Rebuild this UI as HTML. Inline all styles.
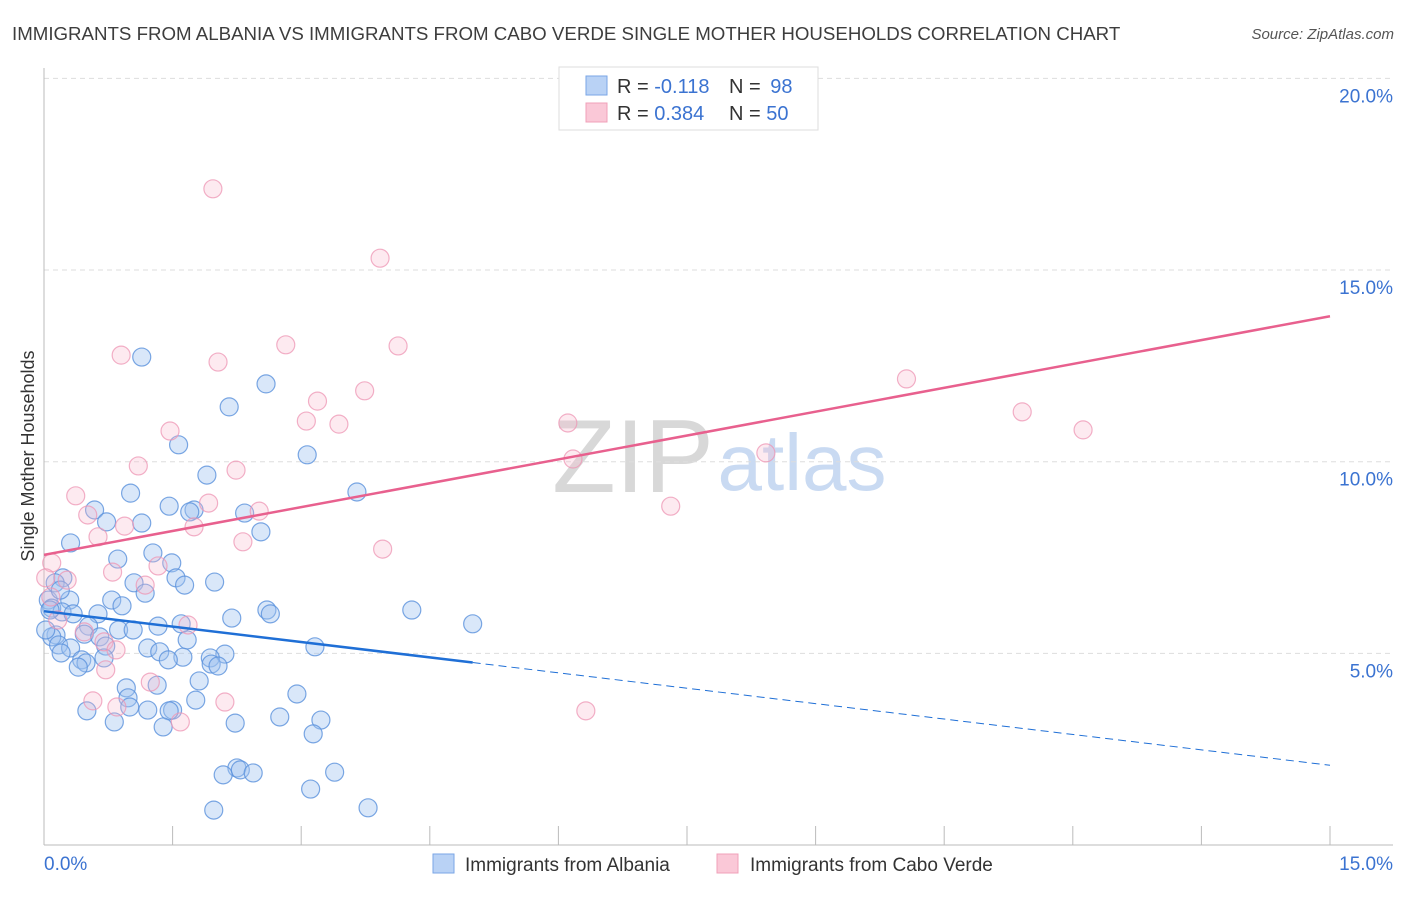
<!DOCTYPE html>
<html><head><meta charset="utf-8"><style>
body{margin:0;background:#fff;width:1406px;height:892px;overflow:hidden;font-family:"Liberation Sans",sans-serif}
svg text{font-family:"Liberation Sans",sans-serif}
</style></head><body>
<svg id="chart" width="1406" height="892">
<text x="12" y="40" font-size="18.7" fill="#3d3d3d">IMMIGRANTS FROM ALBANIA VS IMMIGRANTS FROM CABO VERDE SINGLE MOTHER HOUSEHOLDS CORRELATION CHART</text>
<text x="1394" y="39" font-size="15" fill="#555" font-style="italic" text-anchor="end">Source: ZipAtlas.com</text>
<g>
<text x="633" y="492" font-size="104" fill="#d8d8d8" font-family="Liberation Serif" text-anchor="middle">ZIP</text>
<text x="802" y="490" font-size="80" fill="#c9daf2" text-anchor="middle">atlas</text>
</g>
<g id="grid"></g>
<g id="axes"></g>
<g id="marks"></g>
<text transform="translate(34,456) rotate(-90)" font-size="18" fill="#333" text-anchor="middle">Single Mother Households</text>
<g>
<rect x="559" y="67" width="259" height="63" fill="#fff" stroke="#ddd"/>
<rect x="586" y="76" width="21" height="19" fill="#b9d2f5" stroke="#7aa6e6"/>
<rect x="586" y="103" width="21" height="19" fill="#fac8d7" stroke="#f0a0b8"/>
<text x="617" y="93" font-size="20" fill="#333">R = <tspan fill="#3b73d1">-0.118</tspan></text>
<text x="729" y="93" font-size="20" fill="#333">N = <tspan fill="#3b73d1" dx="4">98</tspan></text>
<text x="617" y="120" font-size="20" fill="#333">R = <tspan fill="#3b73d1">0.384</tspan></text>
<text x="729" y="120" font-size="20" fill="#333">N = <tspan fill="#3b73d1">50</tspan></text>
</g>
<g>
<rect x="433" y="854" width="21" height="19" fill="#b9d2f5" stroke="#7aa6e6"/>
<text x="465" y="871" font-size="19" fill="#333">Immigrants from Albania</text>
<rect x="717" y="854" width="21" height="19" fill="#fac8d7" stroke="#f0a0b8"/>
<text x="750" y="871" font-size="19" fill="#333">Immigrants from Cabo Verde</text>
</g>
</svg>
<script>
const blueX=[1.14,2.59,2.16,1.57,3.07,1.90,1.01,3.65,1.46,.59,1.75,1.70,.73,2.34,1.14,2.53,.31,.86,1.27,1.49,1.54,1.99,1.05,1.64,.22,.13,1.18,.05,.30,.79,.91,.09,.21,.34,.63,2.60,4.29,5.00,2.64,2.19,1.60,1.33,.52,.87,1.04,.47,.14,.09,.65,1.67,.72,1.21,.17,.31,3.16,.20,1.35,1.62,.70,2.11,1.94,.44,1.45,.49,1.95,2.03,.40,1.81,.96,1.32,2.95,.98,1.77,1.00,1.21,.50,1.50,1.46,2.75,3.23,.82,2.23,1.39,3.14,2.25,2.29,2.44,2.09,3.39,3.11,1.98,3.78,.07,.02,.19];
const blueY=[12.73,12.03,11.43,10.44,10.18,9.65,9.18,9.21,8.84,8.74,8.74,8.69,8.43,8.66,8.40,8.17,7.88,7.46,7.62,7.36,6.97,6.86,6.84,6.78,6.97,6.84,6.57,6.39,6.39,6.39,6.24,6.18,6.08,6.03,6.03,6.13,6.13,5.77,6.03,5.92,5.77,5.71,5.71,5.61,5.61,5.50,5.48,5.43,5.43,5.35,5.19,5.14,5.22,5.14,5.17,5.01,5.04,4.90,4.88,4.98,4.88,4.83,4.83,4.75,4.72,4.67,4.64,4.28,4.10,4.17,3.94,3.84,3.78,3.60,3.52,3.50,3.52,3.50,3.34,3.26,3.21,3.18,3.08,2.90,2.01,1.96,1.88,1.83,1.90,1.46,.91,.97,6.13,5.61,6.65];
const pinkX=[1.97,3.92,2.82,4.13,.90,2.03,10.06,3.74,3.19,11.41,3.06,3.44,6.11,1.47,12.12,8.42,6.17,1.10,2.24,.37,1.92,.51,.94,2.51,1.75,.63,2.32,7.31,3.95,.09,.80,1.33,.27,1.18,.08,.16,.47,1.68,.70,.84,.72,1.24,.57,2.11,.85,1.59,6.32,.02];
const pinkY=[17.12,15.31,13.05,13.02,12.78,12.60,12.16,11.85,11.58,11.30,11.06,10.98,11.01,10.80,10.83,10.23,10.07,9.89,9.78,9.11,8.92,8.61,8.32,8.71,8.30,8.04,7.91,8.84,7.72,7.36,7.12,7.28,6.91,6.78,6.47,5.87,5.56,5.74,5.30,5.09,4.57,4.25,3.76,3.73,3.60,3.21,3.50,6.97];
const trendIntercept=[6.10,7.57];
const trendSlope=[-0.268,0.415];
const blueSolidEnd=5.0;
const yTicks=[5,10,15,20];
const yTickLabels=["5.0%","10.0%","15.0%","20.0%"];
const xTicks=[0,1.5,3,4.5,6,7.5,9,10.5,12,13.5,15];

const NS="http://www.w3.org/2000/svg";
const X0=44,X1=1330,Y0=845,PX_PER=38.33;
const sx=v=>X0+(X1-X0)*v/15;
const sy=v=>Y0-v*PX_PER;
function mk(tag,attrs,parent){const e=document.createElementNS(NS,tag);for(const k in attrs)e.setAttribute(k,attrs[k]);parent.appendChild(e);return e;}
const grid=document.getElementById('grid'),axes=document.getElementById('axes'),marks=document.getElementById('marks');
yTicks.forEach((t,i)=>{
 const l=mk('line',{x1:X0,x2:1393,y1:sy(t),y2:sy(t),stroke:'#ddd','stroke-dasharray':'5,4'},grid);
 
 
 const tx=mk('text',{x:1393,y:sy(t)+24,'font-size':19,fill:'#3b73d1','text-anchor':'end'},axes);
 tx.textContent=yTickLabels[i];
 
 
});
let a=mk('line',{x1:X0,x2:X0,y1:68,y2:Y0,stroke:'#bbb'},axes);


a=mk('line',{x1:X0,x2:1393,y1:Y0,y2:Y0,stroke:'#bbb'},axes);


xTicks.forEach(t=>{
 const l=mk('line',{x1:sx(t),x2:sx(t),y1:826,y2:Y0,stroke:'#bbb'},axes);
 
 
});
let t1=mk('text',{x:44,y:870,'font-size':19,fill:'#3b73d1'},axes);t1.textContent='0.0%';


let t2=mk('text',{x:1393,y:870,'font-size':19,fill:'#3b73d1','text-anchor':'end'},axes);t2.textContent='15.0%';


blueX.forEach((x,i)=>{
 const c=mk('circle',{cx:sx(x),cy:sy(blueY[i]),r:9,fill:'rgba(160,196,240,0.4)',stroke:'rgba(90,145,220,0.8)','stroke-width':1.2},marks);
 
 
});
pinkX.forEach((x,i)=>{
 const c=mk('circle',{cx:sx(x),cy:sy(pinkY[i]),r:9,fill:'rgba(247,185,205,0.3)',stroke:'rgba(238,150,180,0.75)','stroke-width':1.2},marks);
 
 
});
const f=(k,x)=>trendIntercept[k]+trendSlope[k]*x;
let tl=mk('line',{x1:sx(0),y1:sy(f(0,0)),x2:sx(blueSolidEnd),y2:sy(f(0,blueSolidEnd)),stroke:'#1f6fd6','stroke-width':2.5},marks);


tl=mk('line',{x1:sx(blueSolidEnd),y1:sy(f(0,blueSolidEnd)),x2:sx(15),y2:sy(f(0,15)),stroke:'#1f6fd6','stroke-width':1,'stroke-dasharray':'8,5'},marks);


tl=mk('line',{x1:sx(0),y1:sy(f(1,0)),x2:sx(15),y2:sy(f(1,15)),stroke:'#e8608e','stroke-width':2.5},marks);


</script>
</body></html>
